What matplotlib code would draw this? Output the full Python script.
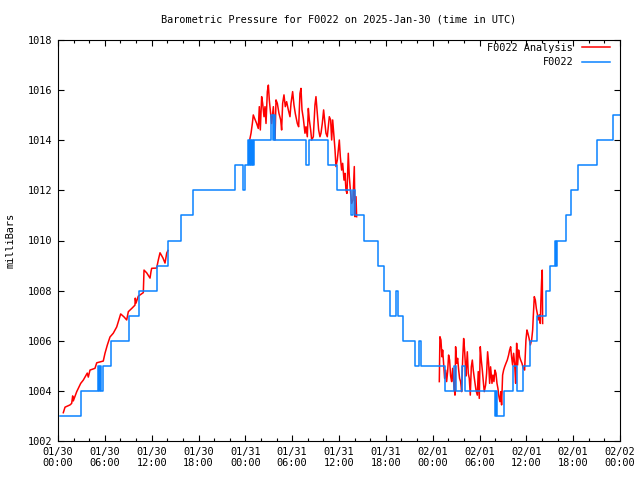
import matplotlib
matplotlib.use("Agg")
import matplotlib.pyplot as plt
import numpy as np

# hours since 2025-01-30 00:00 UTC
xtick_labels = ["01/30\n00:00", "01/30\n06:00", "01/30\n12:00", "01/30\n18:00",
                "01/31\n00:00", "01/31\n06:00", "01/31\n12:00", "01/31\n18:00",
                "02/01\n00:00", "02/01\n06:00", "02/01\n12:00", "02/01\n18:00",
                "02/02\n00:00"]

# station observations (integer mbar, step plot)
obs_t = [0.26, 2.91, 5.09, 5.29, 5.38, 5.51, 5.76, 6.79, 9.16, 10.38, 12.64, 14.09,
         15.76, 17.29, 22.67, 23.70, 23.96, 24.34, 24.47, 24.60, 24.73, 24.86, 24.92,
         25.11, 27.29, 27.55, 27.65, 27.80, 31.83, 32.15, 34.65, 35.74, 37.60, 37.79,
         38.05, 39.14, 40.99, 41.76, 42.53, 43.30, 43.62, 44.26, 45.80, 46.31, 46.50,
         49.58, 50.77, 50.97, 51.82, 52.11, 55.98, 56.17, 56.30, 57.10, 58.35, 58.86,
         59.63, 60.47, 61.43, 62.52, 63.09, 63.67, 63.86, 63.99, 65.09, 65.78, 66.68,
         69.05, 71.10, 72.0]
obs_v = [1003, 1004, 1005, 1004, 1005, 1004, 1005, 1006, 1007, 1008, 1009, 1010,
         1011, 1012, 1013, 1012, 1013, 1014, 1013, 1014, 1013, 1014, 1013,
         1014, 1015, 1014, 1015, 1014, 1013, 1014, 1013, 1012, 1011, 1012,
         1011, 1010, 1009, 1008, 1007, 1008, 1007, 1006, 1005, 1006, 1005,
         1004, 1005, 1004, 1005, 1004, 1003, 1004, 1003, 1004, 1005, 1004,
         1005, 1006, 1007, 1008, 1009, 1010, 1009, 1010, 1011, 1012, 1013,
         1014, 1015, 1015]

# analysis, three periods
ana1_t = [0.68, 0.90, 1.54, 1.75, 1.88, 1.96, 2.40, 2.91, 3.24, 3.75, 3.88, 4.10,
          4.74, 4.96, 5.80, 6.02, 6.32, 6.66, 7.08, 7.52, 8.03, 8.46, 8.80, 9.01,
          9.48, 9.86, 9.90, 9.99, 10.29, 10.93, 11.02, 11.36, 11.79, 11.91, 12.00,
          12.64, 12.85, 13.07, 13.45, 13.71, 13.93, 14.09]
ana1_v = [1003.13, 1003.35, 1003.44, 1003.50, 1003.80, 1003.60, 1003.97, 1004.30,
          1004.43, 1004.71, 1004.55, 1004.83, 1004.90, 1005.12, 1005.19, 1005.50,
          1005.83, 1006.15, 1006.30, 1006.55, 1007.07, 1006.95, 1006.83, 1007.16,
          1007.30, 1007.42, 1007.70, 1007.50, 1007.78, 1007.92, 1008.82, 1008.71,
          1008.50, 1008.75, 1008.89, 1008.90, 1009.22, 1009.51, 1009.30, 1009.10,
          1009.50, 1009.60]

ana2_t = [24.51, 24.73, 24.90, 25.02, 25.19, 25.45, 25.66, 25.79, 25.92, 26.09, 26.22,
          26.39, 26.52, 26.65, 26.82, 26.95, 27.07, 27.24, 27.37, 27.59, 27.80, 27.93,
          28.10, 28.31, 28.53, 28.65, 28.78, 28.95, 29.12, 29.29, 29.51, 29.72, 29.85,
          30.06, 30.23, 30.40, 30.66, 30.83, 31.00, 31.13, 31.26, 31.43, 31.64, 31.77,
          31.94, 32.07, 32.20, 32.37, 32.50, 32.71, 32.92, 33.05, 33.22, 33.39, 33.56,
          33.69, 33.86, 34.03, 34.20, 34.33, 34.50, 34.63, 34.76, 34.93, 35.06, 35.19,
          35.36, 35.49, 35.61, 35.78, 35.91, 36.04, 36.17, 36.34, 36.47, 36.64, 36.77,
          36.89, 37.02, 37.19, 37.32, 37.49, 37.62, 37.79, 37.96, 38.05, 38.18, 38.26]
ana2_v = [1013.94, 1014.28, 1014.67, 1015.01, 1014.87, 1014.67, 1014.47, 1015.34,
          1014.41, 1015.74, 1015.47, 1014.94, 1015.34, 1014.67, 1015.94, 1016.20,
          1015.61, 1015.07, 1014.67, 1015.34, 1014.01, 1015.61, 1015.47, 1015.07,
          1014.81, 1014.41, 1015.47, 1015.81, 1015.34, 1015.54, 1015.21, 1014.94,
          1015.47, 1015.94, 1015.41, 1015.07, 1014.67, 1014.54, 1015.87, 1016.07,
          1015.21, 1014.87, 1014.28, 1014.54, 1014.14, 1015.27, 1014.81, 1014.41,
          1014.01, 1014.14, 1015.41, 1015.74, 1015.07, 1014.41, 1014.14, 1014.28,
          1014.67, 1015.21, 1014.67, 1014.28, 1014.14, 1014.54, 1014.94, 1014.81,
          1014.01, 1014.81, 1014.14, 1013.61, 1012.95, 1013.21, 1013.61, 1014.01,
          1013.34, 1012.81, 1013.08, 1012.41, 1012.68, 1012.01, 1011.88, 1013.48,
          1012.55, 1011.88, 1011.48, 1011.62, 1012.95, 1010.95, 1011.75, 1010.95]

ana3_t = [48.85, 48.93, 49.06, 49.19, 49.28, 49.40, 49.53, 49.66, 49.79, 49.92, 50.04,
          50.17, 50.30, 50.43, 50.56, 50.73, 50.86, 50.94, 51.07, 51.20, 51.33, 51.45,
          51.58, 51.71, 51.84, 51.97, 52.09, 52.18, 52.26, 52.44, 52.56, 52.69, 52.82,
          52.95, 53.08, 53.20, 53.37, 53.55, 53.72, 53.84, 53.97, 54.10, 54.23, 54.36,
          54.49, 54.61, 54.78, 54.91, 55.04, 55.17, 55.30, 55.42, 55.60, 55.72, 55.85,
          55.98, 56.11, 56.24, 56.36, 56.49, 56.62, 56.75, 56.83, 56.96, 57.09, 57.22,
          57.39, 57.56, 57.73, 57.86, 57.99, 58.11, 58.24, 58.37, 58.50, 58.63, 58.76,
          58.88, 59.01, 59.14, 59.27, 59.44, 59.61, 59.78, 59.95, 60.08, 60.20, 60.35,
          60.51, 60.68, 60.81, 60.89, 61.02, 61.15, 61.28, 61.40, 61.53, 61.66, 61.79,
          61.87, 61.96, 62.04, 62.09]
ana3_v = [1004.37, 1006.16, 1006.03, 1005.36, 1005.63, 1005.10, 1004.50, 1004.83,
          1004.37, 1004.77, 1005.43, 1005.23, 1004.59, 1004.37, 1004.90, 1004.17,
          1003.83, 1005.76, 1005.10, 1005.30, 1004.83, 1004.50, 1004.37, 1003.97,
          1005.23, 1006.09, 1005.63, 1005.10, 1004.59, 1005.56, 1004.70, 1004.50,
          1003.83, 1004.96, 1005.23, 1004.83, 1004.43, 1004.03, 1003.83, 1004.77,
          1003.70, 1005.76, 1005.23, 1004.83, 1004.37, 1003.97, 1004.23, 1004.70,
          1005.56, 1005.10, 1004.30, 1004.96, 1004.30, 1004.63, 1004.37, 1004.83,
          1004.70, 1004.30, 1004.10, 1003.77, 1003.57, 1003.97, 1003.44, 1004.63,
          1004.83, 1004.96, 1005.10, 1005.23, 1005.43, 1005.63, 1005.76, 1005.36,
          1005.03, 1005.50, 1005.10, 1004.30, 1005.90, 1005.03, 1005.63, 1005.36,
          1005.23, 1005.10, 1004.90, 1004.83, 1006.03, 1006.43, 1006.30, 1006.10,
          1005.83, 1006.03, 1006.43, 1006.96, 1007.76, 1007.63, 1007.29, 1007.09,
          1006.83, 1007.03, 1006.69, 1007.63, 1008.42, 1008.82, 1006.69]

RED = "#ff0000"
BLUE = "#0a82ff"
FS = 7.4
plt.rcParams["font.family"] = ["DejaVu Sans Mono"]
plt.rcParams["font.size"] = FS

fig = plt.figure(figsize=(6.4, 4.8), dpi=100)
ax = fig.add_axes([58 / 640, 39 / 480, 562 / 640, 401 / 480])

segs = [(ana1_t, ana1_v), (ana2_t, ana2_v), (ana3_t, ana3_v)]
for i, (t, v) in enumerate(segs):
    ax.plot(t, v, color=RED, lw=1.1, label="F0022 Analysis" if i == 0 else None)
ax.step(obs_t, obs_v, where="post", color=BLUE, lw=1.1, label="F0022")

ax.set_xlim(0, 72)
ax.set_ylim(1002, 1018)
ax.set_xticks(np.arange(0, 73, 6))
ax.set_xticklabels(xtick_labels)
ax.set_xticks(np.arange(0, 73, 2), minor=True)
ax.set_yticks(np.arange(1002, 1019, 2))

ax.tick_params(which="both", direction="in", top=True, right=True, color="black", width=0.8)
ax.tick_params(which="major", length=4, pad=4, labelsize=FS)
ax.tick_params(which="minor", length=2.2)
for s in ax.spines.values():
    s.set_linewidth(0.8)

ax.set_ylabel("milliBars", fontsize=FS, labelpad=9)
fig.text(339 / 640, 1 - 20 / 480, "Barometric Pressure for F0022 on 2025-Jan-30 (time in UTC)",
         ha="center", va="center", fontsize=FS)

leg = ax.legend(loc="upper right", bbox_to_anchor=((610 - 58) / 562, (441 - 43) / 401),
                frameon=False, markerfirst=False, handlelength=2.7, handletextpad=0.9,
                borderaxespad=0, borderpad=0, labelspacing=0.4, fontsize=FS)

fig.savefig("out.png", dpi=100)
